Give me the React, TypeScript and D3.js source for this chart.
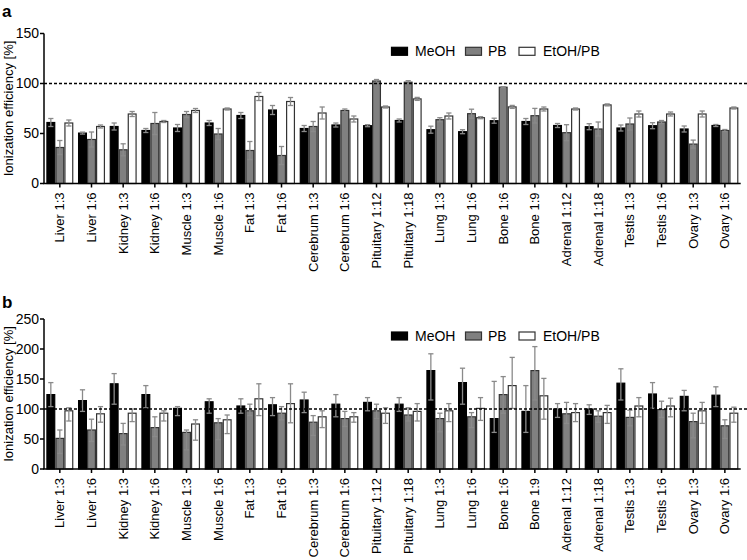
import * as d3 from 'd3'

const categories = [
  'Liver 1:3', 'Liver 1:6', 'Kidney 1:3', 'Kidney 1:6', 'Muscle 1:3', 'Muscle 1:6',
  'Fat 1:3', 'Fat 1:6', 'Cerebrum 1:3', 'Cerebrum 1:6', 'Pituitary 1:12', 'Pituitary 1:18',
  'Lung 1:3', 'Lung 1:6', 'Bone 1:6', 'Bone 1:9', 'Adrenal 1:12', 'Adrenal 1:18',
  'Testis 1:3', 'Testis 1:6', 'Ovary 1:3', 'Ovary 1:6',
]
const seriesNames = ['MeOH', 'PB', 'EtOH/PB']

// panel a: mean and symmetric error
const meohA = [61, 50.4, 57, 53, 55.5, 60.5, 68, 73.5, 55, 58.5, 57.8, 63, 53.8, 51.8, 62.8, 62, 58, 56.8, 55.5, 57.8, 54.5, 58]
const meohAErr = [4, 1, 3.5, 2, 3.5, 2.5, 3, 4.5, 3, 2, 1, 1.5, 3.5, 2, 2.5, 3, 2, 3, 3, 3, 3, 1]
const pbA = [36, 44, 33.7, 60, 69, 49.5, 33, 28, 57, 73, 102.5, 101.3, 63.8, 69.8, 96.3, 67.8, 50.8, 54.5, 59.5, 61.5, 39.4, 53]
const pbAErr = [7, 7.5, 6, 11, 3, 5.5, 9, 9, 5, 1.5, 1.5, 1.5, 2, 4.5, 0.5, 7.3, 8, 7, 6, 1.5, 4, 1]
const etohA = [60.5, 57, 69.5, 62, 73, 74.5, 87, 82, 70.5, 64.5, 76.5, 84.6, 67.5, 65.8, 76.6, 74.5, 74.5, 78.6, 69.5, 69.5, 69.5, 75.5]
const etohAErr = [3, 1.5, 2.5, 1, 2, 1, 4, 4, 6, 3, 1, 1.5, 3, 1, 1.5, 2, 1, 1, 3, 2, 3, 1]

// panel b: mean and [low, high] error bounds
const meohB = [124, 114, 142, 124, 101, 112, 105, 107, 115, 108, 111, 108, 164, 144, 84, 96, 100, 100, 143, 125, 121, 123]
const meohBErr = [[104, 144], [96, 132], [108, 159], [102, 139], [89, 104], [93, 117], [93, 117], [89, 119], [94, 128], [87, 124], [97, 119], [96, 119], [115, 192], [108, 168], [61, 146], [61, 139], [86, 109], [91, 107], [115, 167], [101, 144], [97, 131], [104, 137]]
const pbB = [51, 65, 59, 69, 61, 77, 97, 93, 78, 84, 97, 90, 84, 87, 124, 164, 92, 88, 86, 99, 79, 72]
const pbBErr = [[26, 65], [46, 83], [40, 76], [54, 87], [32, 65], [49, 84], [89, 108], [82, 104], [56, 89], [71, 96], [84, 108], [80, 102], [62, 93], [69, 94], [93, 154], [115, 204], [76, 111], [78, 97], [72, 98], [86, 113], [52, 93], [51, 82]]
const etohB = [97, 92, 93, 93, 75, 82, 117, 109, 87, 87, 93, 96, 97, 101, 139, 122, 94, 94, 105, 105, 97, 93]
const etohBErr = [[80, 102], [78, 104], [79, 100], [80, 97], [48, 82], [59, 90], [89, 142], [77, 142], [69, 97], [78, 94], [76, 102], [80, 109], [79, 109], [81, 119], [101, 186], [83, 151], [79, 109], [76, 106], [87, 119], [87, 118], [76, 111], [78, 103]]

const ticksA = [0, 50, 100, 150]
const ticksB = [0, 50, 100, 150, 200, 250]

const fills = ['#000000', '#808080', '#ffffff']
const strokes = ['#000000', '#333333', '#333333']
const FONT = 'Liberation Sans, Arial, sans-serif'

function Panel({ y0, y1, max, ticks, series, letter, letterY, legendY }) {
  const x = d3.scaleBand().domain(categories).range([44, 740.7]).paddingInner(0.147).paddingOuter(0.0735)
  const xs = d3.scaleBand().domain(seriesNames).range([0, x.bandwidth()])
  const y = d3.scaleLinear().domain([0, max]).range([y0, y1])
  const bw = xs.bandwidth()

  const legendX = [391.5, 465.5, 519]
  const legendTextX = [415, 488, 543]

  return (
    <g fontFamily={FONT} fontSize={13}>
      <text x={2} y={letterY} fontWeight="bold" fontSize={17}>{letter}</text>

      {/* bars */}
      {series.map((s, si) =>
        categories.map((c, i) => (
          <rect key={`${si}-${i}`}
            x={x(c) + xs(seriesNames[si]) + 0.6}
            y={y(s.values[i])}
            width={bw - 1.2}
            height={y0 - y(s.values[i])}
            fill={fills[si]} stroke={strokes[si]} strokeWidth={1.2} />
        ))
      )}

      {/* error bars */}
      {series.map((s, si) =>
        categories.map((c, i) => {
          const cx = x(c) + xs(seriesNames[si]) + bw / 2
          const [lo, hi] = s.err[i]
          return (
            <g key={`e${si}-${i}`} stroke="#8a8a8a" strokeWidth={1.3}>
              <line x1={cx} x2={cx} y1={y(lo)} y2={y(hi)} />
              <line x1={cx - 2.6} x2={cx + 2.6} y1={y(hi)} y2={y(hi)} />
              <line x1={cx - 2.6} x2={cx + 2.6} y1={y(lo)} y2={y(lo)} />
            </g>
          )
        })
      )}

      {/* 100% reference */}
      <line x1={44} x2={747} y1={y(100)} y2={y(100)} stroke="#000" strokeWidth={1.5} strokeDasharray="3,2" />

      {/* y axis */}
      <line x1={44} x2={44} y1={y(max)} y2={y0} stroke="#000" strokeWidth={1.5} />
      {ticks.map(t => (
        <g key={t}>
          <line x1={40} x2={44} y1={y(t)} y2={y(t)} stroke="#000" strokeWidth={1.5} />
          <text x={39} y={y(t)} dy="0.35em" textAnchor="end" fontSize={14}>{t}</text>
        </g>
      ))}
      <text transform={`translate(13,${(y0 + y(max)) / 2}) rotate(-90)`} textAnchor="middle">
        Ionization efficiency [%]
      </text>

      {/* x axis */}
      <line x1={43.25} x2={740.7} y1={y0} y2={y0} stroke="#000" strokeWidth={1.5} />
      {categories.map(c => {
        const cx = x(c) + x.bandwidth() / 2
        return (
          <g key={c}>
            <line x1={cx} x2={cx} y1={y0} y2={y0 + 4} stroke="#000" strokeWidth={1.5} />
            <text transform={`translate(${cx},${y0 + 9}) rotate(-90)`} dy="0.35em" textAnchor="end">{c}</text>
          </g>
        )
      })}

      {/* legend */}
      {seriesNames.map((n, i) => (
        <g key={n}>
          <rect x={legendX[i]} y={legendY - 4} width={16} height={8} fill={fills[i]} stroke={strokes[i]} strokeWidth={1.2} />
          <text x={legendTextX[i]} y={legendY} dy="0.35em" fontSize={14}>{n}</text>
        </g>
      ))}
    </g>
  )
}

export default function App() {
  const seriesA = [
    { values: meohA, err: meohA.map((v, i) => [v - meohAErr[i], v + meohAErr[i]]) },
    { values: pbA, err: pbA.map((v, i) => [v - pbAErr[i], v + pbAErr[i]]) },
    { values: etohA, err: etohA.map((v, i) => [v - etohAErr[i], v + etohAErr[i]]) },
  ]
  const seriesB = [
    { values: meohB, err: meohBErr },
    { values: pbB, err: pbBErr },
    { values: etohB, err: etohBErr },
  ]

  return (
    <svg width={747} height={560} style={{ position: 'absolute', left: 0, top: 0, background: '#fff' }}>
      <rect width={747} height={560} fill="#fff" />
      <Panel y0={183.5} y1={33.5} max={150} ticks={ticksA} series={seriesA} letter="a" letterY={16.5} legendY={51.3} />
      <Panel y0={469} y1={319} max={250} ticks={ticksB} series={seriesB} letter="b" letterY={308} legendY={336} />
    </svg>
  )
}
